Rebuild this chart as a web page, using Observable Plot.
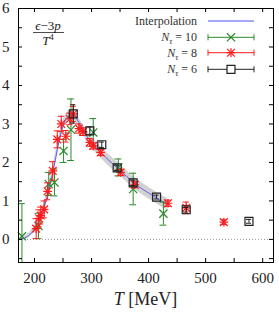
<!DOCTYPE html>
<html><head><meta charset="utf-8">
<script src="https://cdn.jsdelivr.net/npm/d3@7"></script>
<script src="https://cdn.jsdelivr.net/npm/@observablehq/plot@0.6"></script>
<style>body{margin:0;background:#fff}</style>
</head><body><div id="chart"></div>
<script>
// ---- data ----
const interpT = [172, 180, 190, 200, 208, 216, 222, 228, 233, 237, 243, 250, 258, 265, 272, 280, 290, 300, 315, 330, 345, 360, 375, 390, 405, 420, 433];
const interpV = [0.0, 0.02, 0.1, 0.27, 0.5, 0.8, 1.1, 1.45, 1.8, 2.1, 2.55, 2.95, 3.18, 3.24, 3.17, 2.98, 2.72, 2.52, 2.28, 2.06, 1.86, 1.66, 1.46, 1.3, 1.16, 1.02, 0.92];
const interpE = [0.04, 0.05, 0.06, 0.08, 0.1, 0.12, 0.13, 0.14, 0.15, 0.15, 0.15, 0.14, 0.12, 0.11, 0.11, 0.12, 0.13, 0.14, 0.15, 0.15, 0.15, 0.15, 0.15, 0.15, 0.15, 0.15, 0.15];

const n10T = [178, 207, 225, 235, 251, 264, 303, 347, 373, 426];
const n10V = [0.08, 0.35, 1.44, 1.48, 2.3, 2.85, 2.78, 1.87, 1.31, 0.67];
const n10E = [0.85, 0.33, 0.3, 0.35, 0.3, 0.8, 0.36, 0.22, 0.41, 0.3];

const n8T = [203, 208, 211, 217, 223, 232, 240, 247, 255, 262, 268, 278, 285, 297, 303, 316, 351, 376, 434, 466, 532];
const n8V = [0.28, 0.55, 0.62, 0.78, 1.25, 1.78, 2.6, 3.0, 2.68, 3.13, 3.26, 2.88, 2.8, 2.52, 2.43, 2.26, 1.74, 1.42, 0.94, 0.82, 0.45];
const n8E = [0.26, 0.22, 0.22, 0.22, 0.22, 0.24, 0.22, 0.2, 0.15, 0.15, 0.2, 0.12, 0.1, 0.1, 0.08, 0.08, 0.08, 0.08, 0.08, 0.15, 0.06];

const n6T = [268, 297, 318, 345, 373, 414, 466, 576];
const n6V = [3.26, 2.82, 2.46, 1.86, 1.47, 1.1, 0.77, 0.47];
const n6E = [0.24, 0.1, 0.07, 0.07, 0.07, 0.05, 0.06, 0.05];

const xLabels = [200, 300, 400, 500, 600];
const xTicks = [200, 250, 300, 350, 400, 450, 500, 550, 600];
const yLabels = [0, 1, 2, 3, 4, 5, 6];
const yTicks = [-0.5, 0, 0.5, 1, 1.5, 2, 2.5, 3, 3.5, 4, 4.5, 5, 5.5];
const legendLabels = ["Interpolation", "10", "8", "6"];

// ---- styles ----
const xDomain = [172, 619];
const yDomain = [-0.6, 6];
const BLUE = "#5050f0", GREEN = "#2a8a2a", RED = "#ff1a1a", BLACK = "#222";
const tickLenX = 7;     // in MeV (~4px)
const tickLenY = 0.105; // in y units (~4px)
const capG = 6, capR = 5.5, capB = 4.5;

const rows = (T, V, E) => T.map((t, i) => ({t, v: V[i], e: E[i]}));
const interp = rows(interpT, interpV, interpE);
const n10 = rows(n10T, n10V, n10E);
const n8 = rows(n8T, n8V, n8E);
const n6 = rows(n6T, n6V, n6E);

function errMarks(data, color, cap, sw) {
  return [
    Plot.ruleX(data, {x: "t", y1: d => d.v - d.e, y2: d => d.v + d.e, stroke: color, strokeWidth: sw, clip: true}),
    Plot.ruleY(data, {y: d => d.v - d.e, x1: d => d.t - cap, x2: d => d.t + cap, stroke: color, strokeWidth: sw, clip: true}),
    Plot.ruleY(data, {y: d => d.v + d.e, x1: d => d.t - cap, x2: d => d.t + cap, stroke: color, strokeWidth: sw, clip: true})
  ];
}

const chart = Plot.plot({
  width: 279, height: 313,
  marginLeft: 18, marginRight: 6, marginTop: 8, marginBottom: 51,
  x: {domain: xDomain},
  y: {domain: yDomain},
  style: {fontFamily: "'Liberation Serif', 'DejaVu Serif', serif", fontSize: "15px", background: "white", color: "black", overflow: "visible"},
  marks: [
    Plot.ruleY([0], {stroke: "#9a9a9a", strokeDasharray: "1,2", strokeWidth: 1}),
    Plot.areaY(interp, {x: "t", y1: d => d.v - d.e, y2: d => d.v + d.e, fill: "#d2d2d2", curve: "monotone-x"}),
    Plot.line(interp, {x: "t", y: "v", stroke: BLUE, strokeWidth: 0.9, curve: "monotone-x"}),
    ...errMarks(n10, GREEN, capG, 1),
    Plot.dot(n10, {x: "t", y: "v", symbol: "times", r: 3.8, stroke: GREEN, strokeWidth: 1.2}),
    ...errMarks(n8, RED, capR, 1),
    Plot.dot(n8, {x: "t", y: "v", symbol: "times", r: 3.6, stroke: RED, strokeWidth: 1.2}),
    Plot.dot(n8, {x: "t", y: "v", symbol: "plus", r: 2.9, stroke: RED, strokeWidth: 1.2}),
    ...errMarks(n6, BLACK, capB, 1),
    Plot.dot(n6, {x: "t", y: "v", symbol: "square", r: 4.5, stroke: BLACK, fill: "none", strokeWidth: 1.2}),
    // inward ticks on all four sides
    Plot.ruleX(xTicks, {x: d => d, y1: yDomain[0], y2: yDomain[0] + tickLenY, stroke: "black"}),
    Plot.ruleX(xTicks, {x: d => d, y1: yDomain[1] - tickLenY, y2: yDomain[1], stroke: "black"}),
    Plot.ruleY(yTicks, {y: d => d, x1: xDomain[0], x2: xDomain[0] + tickLenX, stroke: "black"}),
    Plot.ruleY(yTicks, {y: d => d, x1: xDomain[1] - tickLenX, x2: xDomain[1], stroke: "black"}),
    Plot.axisX({ticks: xLabels, tickSize: 0, tickPadding: 10, label: null, fill: "#222", tickFormat: d => String(d)}),
    Plot.axisY({ticks: yLabels, tickSize: 0, tickPadding: 9, label: null, fill: "#222", tickFormat: d => String(d)}),
    Plot.frame({stroke: "black", strokeWidth: 1})
  ]
});
document.getElementById("chart").appendChild(chart);

// ---- annotations: title fraction, legend, x label ----
const svg = d3.select(chart);
const FONT = "'Liberation Serif', 'DejaVu Serif', serif";

// fraction (e-3p)/T^4
const frac = svg.append("g").attr("font-family", FONT).attr("fill", "#222");
const num = frac.append("text").attr("x", 48).attr("y", 29.5).attr("text-anchor", "middle").attr("font-size", 13);
num.append("tspan").attr("font-style", "italic").text("ϵ");
num.append("tspan").text("−3");
num.append("tspan").attr("font-style", "italic").text("p");
frac.append("line").attr("x1", 33).attr("x2", 64).attr("y1", 32.5).attr("y2", 32.5).attr("stroke", "#222").attr("stroke-width", 0.8);
const den = frac.append("text").attr("x", 48).attr("y", 44.5).attr("text-anchor", "middle").attr("font-size", 13);
den.append("tspan").attr("font-style", "italic").text("T");
den.append("tspan").attr("font-size", 9).attr("dy", -5).text("4");

// legend
const leg = svg.append("g").attr("font-family", FONT).attr("fill", "#333");
const legY = [21, 37.3, 52.7, 69.3];
const legColors = [BLUE, GREEN, RED, BLACK];
const lx1 = 208, lx2 = 254, lxm = 231, tx = 197;
legendLabels.forEach((lab, i) => {
  const y = legY[i];
  const t = leg.append("text").attr("x", tx).attr("y", y + 4).attr("text-anchor", "end").attr("font-size", 12);
  if (i === 0) {
    t.text(lab);
    leg.append("line").attr("x1", lx1).attr("x2", lx2).attr("y1", y).attr("y2", y).attr("stroke", BLUE).attr("stroke-width", 1);
  } else {
    t.append("tspan").attr("font-style", "italic").text("N");
    t.append("tspan").attr("font-style", "italic").attr("font-size", 8.5).attr("dy", 3).text("τ");
    t.append("tspan").attr("dy", -3).text(" = " + lab);
    const c = legColors[i];
    leg.append("line").attr("x1", lx1).attr("x2", lx2).attr("y1", y).attr("y2", y).attr("stroke", c);
    [lx1, lx2].forEach(xx => leg.append("line").attr("x1", xx).attr("x2", xx).attr("y1", y - 3).attr("y2", y + 3).attr("stroke", c));
    const g = leg.append("g").attr("transform", `translate(${lxm},${y})`).attr("fill", "none").attr("stroke", c).attr("stroke-width", 1.2);
    if (i === 1) g.append("path").attr("d", d3.symbol(d3.symbolTimes, Math.PI * 3.8 * 3.8)());
    if (i === 2) {
      g.append("path").attr("d", d3.symbol(d3.symbolTimes, Math.PI * 3.6 * 3.6)());
      g.append("path").attr("d", d3.symbol(d3.symbolPlus, Math.PI * 2.9 * 2.9)());
    }
    if (i === 3) g.append("path").attr("d", d3.symbol(d3.symbolSquare, Math.PI * 4.5 * 4.5)()).attr("fill", "white");
  }
});

// x label
const xl = svg.append("text").attr("x", 145.5).attr("y", 305).attr("text-anchor", "middle")
  .attr("font-family", FONT).attr("font-size", 18).attr("fill", "#222");
xl.append("tspan").attr("font-style", "italic").text("T");
xl.append("tspan").text(" [MeV]");
</script>
</body></html>
